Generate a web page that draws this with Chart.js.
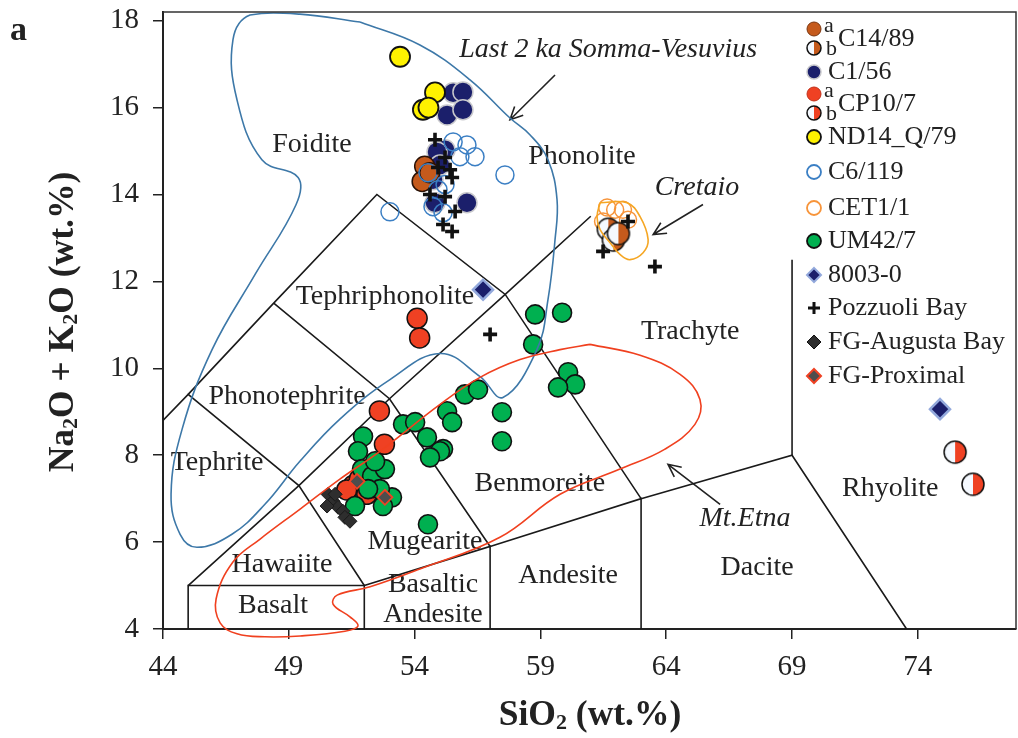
<!DOCTYPE html>
<html>
<head>
<meta charset="utf-8">
<script src="https://cdn.jsdelivr.net/npm/chart.js@4.4.1/dist/chart.umd.min.js"></script>
<style>
  body { margin: 0; background: #fff; overflow: hidden; }
  canvas { display: block; }
</style>
</head>
<body>
<canvas id="tas" width="1018" height="738"></canvas>
<script>
// tick values
const xTicks = [44, 49, 54, 59, 64, 69, 74];
const yTicks = [4, 6, 8, 10, 12, 14, 16, 18];

// samples [SiO2, Na2O+K2O]
const c1489a = [[54.4, 14.65], [54.3, 14.3], [54.6, 14.5]];
const c1489b = [[61.7, 13.2], [61.9, 12.95], [62.1, 13.1]];
const c156 = [[55.53, 16.34], [55.92, 16.36], [55.29, 15.83], [55.92, 15.95], [55.21, 15.03], [54.89, 14.98],
  [54.73, 14.34], [54.81, 13.81], [56.08, 13.81], [55.01, 14.68]];
const cp107a = [[54.1, 11.15], [54.2, 10.7], [52.6, 9.02], [52.8, 8.25], [51.55, 7.3], [52.1, 7.1], [51.8, 7.45],
  [52.3, 7.25], [51.3, 7.2]];
const cp107b = [[75.48, 8.07], [76.19, 7.33]];
const nd14 = [[53.42, 17.17], [54.81, 16.35], [54.33, 15.95], [54.55, 16.0]];
const c6119 = [[55.53, 15.21], [56.08, 15.14], [56.4, 14.87], [55.8, 14.87], [57.59, 14.45], [53.02, 13.6],
  [54.53, 14.5], [54.73, 13.72], [55.13, 13.58], [55.21, 14.23], [54.93, 14.11]];
const cet11 = [[61.65, 13.7], [61.97, 13.65], [62.28, 13.65], [61.49, 13.38], [62.48, 13.42]];
const um427 = [[58.79, 11.24], [59.86, 11.28], [58.71, 10.55], [60.1, 9.91], [60.38, 9.63], [59.7, 9.56],
  [56.0, 9.4], [56.52, 9.51], [55.29, 9.01], [55.49, 8.76], [57.47, 8.99], [57.47, 8.32], [55.13, 8.14],
  [53.54, 8.71], [54.02, 8.76], [54.49, 8.41], [55.01, 8.09], [54.61, 7.95], [51.95, 8.43], [51.75, 8.09],
  [51.91, 7.68], [52.31, 7.52], [52.82, 7.68], [52.43, 7.86], [51.63, 6.83], [53.1, 7.03], [52.74, 6.83],
  [54.53, 6.41], [52.62, 7.22], [52.15, 7.22]];
const s8003 = [[56.72, 11.81], [74.88, 9.06]];
const pozzuoli = [[54.81, 15.26], [55.21, 14.85], [54.93, 14.62], [55.41, 14.57], [55.49, 14.39], [54.61, 14.0],
  [55.21, 13.95], [55.61, 13.61], [55.13, 13.31], [55.49, 13.15], [57.0, 10.78], [61.49, 12.69], [62.48, 13.38],
  [63.55, 12.34]];
const augusta = [[50.56, 7.1], [50.76, 6.94], [50.96, 6.8], [51.15, 6.71], [50.52, 6.83], [51.23, 6.57],
  [51.43, 6.48], [50.84, 7.1]];
const proximal = [[51.71, 7.4], [52.82, 7.03]];

// TAS field boundaries (Le Bas et al.)
const tasLines = [
  [[45, 4], [45, 5], [52, 5], [52, 4]],
  [[52, 5], [57, 5.9], [57, 4]],
  [[57, 5.9], [63, 7], [63, 4]],
  [[63, 7], [69, 8], [73.55, 4]],
  [[69, 8], [69, 12.5]],
  [[45, 5], [49.4, 7.3], [53, 9.3], [57.6, 11.7], [61, 13.5]],
  [[52, 5], [49.4, 7.3], [45, 9.4], [44, 8.8]],
  [[45, 9.4], [48.4, 11.5], [52.5, 14], [57.6, 11.7], [63, 7]],
  [[48.4, 11.5], [53, 9.3], [57, 5.9]]
];

// envelopes
const vesuvius = [[51.83, 17.97], [49.44, 18.15], [47.46, 18.13], [46.78, 17.56], [46.94, 16.18], [47.93, 14.8],
  [49.37, 14.39], [49.29, 13.77], [47.66, 12.16], [45.95, 10.43], [44.76, 8.6], [44.32, 7.1], [44.68, 6.18],
  [45.35, 5.88], [46.74, 6.18], [48.05, 6.87], [49.44, 7.86], [51.03, 8.83], [53.02, 9.74], [55.01, 10.34],
  [56.6, 9.81], [57.51, 9.33], [58.86, 10.43], [59.3, 11.58], [59.58, 12.96], [59.66, 13.88], [59.3, 14.8],
  [58.59, 15.37], [57.79, 15.76], [56.2, 16.64], [54.21, 17.44], [51.83, 17.97]];
const etna = [[60.97, 10.55], [62.96, 10.3], [64.55, 9.86], [65.34, 9.28], [65.14, 8.71], [63.95, 8.14],
  [62.16, 7.68], [59.78, 7.1], [57.39, 6.11], [54.21, 5.38], [52.23, 4.97], [50.92, 4.78], [50.76, 4.57],
  [51.43, 4.28], [51.75, 4.07], [51.23, 3.95], [49.45, 3.84], [48.05, 3.82], [46.94, 3.89], [46.27, 4.14],
  [46.11, 4.69], [46.78, 5.54], [47.86, 6.07], [49.45, 6.76], [51.03, 7.45], [52.62, 8.09], [55.01, 9.17],
  [56.6, 9.79], [58.19, 10.2], [59.78, 10.43], [60.97, 10.55]];
const cretaio = [[61.37, 13.81], [62.44, 13.81], [62.96, 13.49], [63.28, 12.96], [63.08, 12.66], [62.56, 12.5],
  [62.16, 12.62], [61.77, 12.89], [61.37, 13.19], [61.25, 13.49], [61.37, 13.81]];

// field names and where they sit
const fieldNames = ['Foidite', 'Phonolite', 'Tephriphonolite', 'Trachyte', 'Phonotephrite', 'Tephrite',
  'Benmoreite', 'Mugearite', 'Hawaiite', 'Basalt', 'Basaltic', 'Andesite', 'Andesite', 'Dacite', 'Rhyolite'];
const fieldAt = [[49.92, 15.14], [60.65, 14.87], [52.82, 11.65], [64.95, 10.85], [48.93, 9.35], [46.15, 7.84],
  [58.98, 7.35], [54.41, 6.0], [48.73, 5.49], [48.37, 4.53], [54.73, 5.03], [54.73, 4.34], [60.1, 5.22],
  [67.61, 5.42], [72.9, 7.22]];

const noteNames = ['Last 2 ka Somma-Vesuvius', 'Cretaio', 'Mt.Etna'];
const noteAt = [[61.69, 17.33], [65.22, 14.16], [67.13, 6.53]];
const arrowFrom = [[59.58, 16.75], [65.46, 13.77], [66.14, 6.87]];
const arrowTo = [[57.79, 15.72], [63.48, 13.08], [64.07, 7.79]];

const legendNames = ['C14/89', 'C1/56', 'CP10/7', 'ND14_Q/79', 'C6/119', 'CET1/1', 'UM42/7', '8003-0',
  'Pozzuoli Bay', 'FG-Augusta Bay', 'FG-Proximal'];

const SERIF = "'Liberation Serif', 'Times New Roman', serif";
const BROWN = '#c55a1c', NAVY = '#1b1f6b', RED = '#ef4123', YELLOW = '#fff200',
  SKY = '#3b7fc4', ORANGE = '#f7943a', GREEN = '#00b050';

function drawHalf(g, x, y, r, color) {
  g.beginPath(); g.arc(x, y, r, 0, 2 * Math.PI); g.fillStyle = '#f5f9ff'; g.fill();
  g.beginPath(); g.moveTo(x, y - r); g.arc(x, y, r, -Math.PI / 2, Math.PI / 2); g.closePath();
  g.fillStyle = color; g.fill();
  g.beginPath(); g.arc(x, y, r, 0, 2 * Math.PI); g.lineWidth = 1.5; g.strokeStyle = '#111'; g.stroke();
}
function halfImg(r, color) {
  const c = document.createElement('canvas');
  const s = Math.ceil(2 * r + 4);
  c.width = s; c.height = s;
  drawHalf(c.getContext('2d'), s / 2, s / 2, r, color);
  return c;
}

const pts = a => a.map(p => ({ x: p[0], y: p[1] }));
const dot = (label, data, bg, bc, r, bw) => ({
  label, data: pts(data), pointStyle: 'circle', pointRadius: r, pointBackgroundColor: bg,
  pointBorderColor: bc, pointBorderWidth: bw
});
const line = (data, color, tension, clip) => ({
  label: '', data: pts(data), showLine: true, borderColor: color, borderWidth: 1.6, pointRadius: 0,
  fill: false, tension, clip
});

const datasets = [
  ...tasLines.map(l => line(l, '#1a1a1a', 0)),
  dot('C1/56', c156, NAVY, '#c8c8cc', 10, 1.5),
  dot('C14/89 a', c1489a, BROWN, '#2a1206', 10, 1.5),
  dot('ND14_Q/79', nd14, YELLOW, '#111', 10, 1.8),
  dot('CP10/7 a', cp107a, RED, '#111', 10, 1.5),
  dot('UM42/7', um427, GREEN, '#111', 9.5, 1.6),
  dot('C6/119', c6119, 'rgba(255,255,255,0)', SKY, 9, 1.5),
  dot('CET1/1', cet11, 'rgba(255,255,255,0)', ORANGE, 8.5, 1.5),
  { label: 'C14/89 b', data: pts(c1489b), pointStyle: halfImg(11, BROWN) },
  { label: 'CP10/7 b', data: pts(cp107b), pointStyle: halfImg(11, RED) },
  { label: 'FG-Augusta Bay', data: pts(augusta), pointStyle: 'rectRot', pointRadius: 7,
    pointBackgroundColor: '#2e2e2e', pointBorderColor: '#1a1a1a', pointBorderWidth: 1 },
  { label: 'FG-Proximal', data: pts(proximal), pointStyle: 'rectRot', pointRadius: 7.5,
    pointBackgroundColor: '#4d4d4d', pointBorderColor: RED, pointBorderWidth: 1.8 },
  { label: '8003-0', data: pts(s8003), pointStyle: 'rectRot', pointRadius: 10,
    pointBackgroundColor: NAVY, pointBorderColor: '#93a9dc', pointBorderWidth: 2.5 },
  { label: 'Pozzuoli Bay', data: pts(pozzuoli), pointStyle: 'cross', pointRadius: 7,
    pointBorderColor: '#111', pointBorderWidth: 3.6 },
  line(vesuvius, '#3d78a8', 0.4),
  line(etna, '#f0401f', 0.4, 14),
  line(cretaio, '#f5a623', 0.4)
];
datasets.forEach((d, i) => { d.order = datasets.length - i; });

function marker(ctx, kind, x, y, r, fill, stroke, lw) {
  ctx.save();
  if (kind === 'half') { drawHalf(ctx, x, y, r, fill); ctx.restore(); return; }
  ctx.beginPath();
  if (kind === 'circle') ctx.arc(x, y, r, 0, 2 * Math.PI);
  if (kind === 'diamond') { ctx.moveTo(x, y - r); ctx.lineTo(x + r, y); ctx.lineTo(x, y + r); ctx.lineTo(x - r, y); ctx.closePath(); }
  if (kind === 'cross') { ctx.moveTo(x - r, y); ctx.lineTo(x + r, y); ctx.moveTo(x, y - r); ctx.lineTo(x, y + r); }
  if (fill && kind !== 'cross') { ctx.fillStyle = fill; ctx.fill(); }
  ctx.lineWidth = lw; ctx.strokeStyle = stroke; ctx.stroke();
  ctx.restore();
}

function subText(ctx, runs, size) {
  let w = 0;
  runs.forEach(([t, sub]) => {
    ctx.font = 'bold ' + (sub ? size * 0.62 : size) + 'px ' + SERIF;
    ctx.fillText(t, w, sub ? size * 0.22 : 0);
    w += ctx.measureText(t).width;
  });
  return w;
}
function runsWidth(ctx, runs, size) {
  let w = 0;
  runs.forEach(([t, sub]) => {
    ctx.font = 'bold ' + (sub ? size * 0.62 : size) + 'px ' + SERIF;
    w += ctx.measureText(t).width;
  });
  return w;
}

const decor = {
  id: 'decor',
  beforeDatasetsDraw(chart) {
    const { ctx, scales: { x, y } } = chart;
    ctx.save();
    ctx.fillStyle = '#222';
    ctx.textAlign = 'center';
    ctx.textBaseline = 'middle';
    ctx.font = '28px ' + SERIF;
    fieldNames.forEach((t, i) => ctx.fillText(t, x.getPixelForValue(fieldAt[i][0]), y.getPixelForValue(fieldAt[i][1])));
    ctx.font = 'italic 28px ' + SERIF;
    noteNames.forEach((t, i) => ctx.fillText(t, x.getPixelForValue(noteAt[i][0]), y.getPixelForValue(noteAt[i][1])));
    ctx.strokeStyle = '#222';
    ctx.lineWidth = 1.6;
    arrowFrom.forEach((f, i) => {
      const x1 = x.getPixelForValue(f[0]), y1 = y.getPixelForValue(f[1]);
      const x2 = x.getPixelForValue(arrowTo[i][0]), y2 = y.getPixelForValue(arrowTo[i][1]);
      const a = Math.atan2(y2 - y1, x2 - x1);
      ctx.beginPath();
      ctx.moveTo(x1, y1); ctx.lineTo(x2, y2);
      ctx.moveTo(x2 - 14 * Math.cos(a - 0.45), y2 - 14 * Math.sin(a - 0.45));
      ctx.lineTo(x2, y2);
      ctx.lineTo(x2 - 14 * Math.cos(a + 0.45), y2 - 14 * Math.sin(a + 0.45));
      ctx.stroke();
    });
    ctx.restore();
  },
  afterDraw(chart) {
    const { ctx, chartArea: a } = chart;
    ctx.save();
    // frame top / right
    ctx.strokeStyle = '#333';
    ctx.lineWidth = 1.5;
    ctx.beginPath();
    ctx.moveTo(a.left, a.top); ctx.lineTo(a.right, a.top); ctx.lineTo(a.right, a.bottom);
    ctx.stroke();

    // legend
    const mx = 814, tx = 828, r = 7;
    const rowY = [39, 72, 104, 137, 172, 208, 241, 275, 308, 342, 376];
    const rows = [
      null,
      ['circle', NAVY, '#c8c8cc', 1.5],
      null,
      ['circle', YELLOW, '#111', 1.8],
      ['circle', null, SKY, 1.8],
      ['circle', null, ORANGE, 1.8],
      ['circle', GREEN, '#111', 1.8],
      ['diamond', NAVY, '#93a9dc', 2],
      ['cross', null, '#111', 3],
      ['diamond', '#2e2e2e', '#111', 1],
      ['diamond', '#4d4d4d', RED, 2]
    ];
    ctx.fillStyle = '#222';
    ctx.textBaseline = 'middle';
    ctx.textAlign = 'left';
    rows.forEach((m, i) => {
      ctx.font = '26px ' + SERIF;
      if (m) {
        marker(ctx, m[0], mx, rowY[i], m[0] === 'cross' ? 6 : r, m[1], m[2], m[3]);
        ctx.fillText(legendNames[i], tx, rowY[i]);
      } else {
        const col = i === 0 ? BROWN : RED;
        marker(ctx, 'circle', mx, rowY[i] - 10, r, col, col === BROWN ? '#7a3610' : '#c0301a', 1);
        marker(ctx, 'half', mx, rowY[i] + 9, r, col);
        ctx.font = '22px ' + SERIF;
        ctx.fillText('a', tx - 4, rowY[i] - 13);
        ctx.fillText('b', tx - 2, rowY[i] + 10);
        ctx.font = '26px ' + SERIF;
        ctx.fillText(legendNames[i], tx + 10, rowY[i]);
      }
    });

    // axis titles
    ctx.fillStyle = '#222';
    ctx.textBaseline = 'middle';
    const size = 35.5;
    const xr = [['SiO', false], ['2', true], [' (wt.%)', false]];
    const wx = runsWidth(ctx, xr, size);
    ctx.save();
    ctx.translate(590 - wx / 2, 716);
    subText(ctx, xr, size);
    ctx.restore();
    const yr = [['Na', false], ['2', true], ['O + K', false], ['2', true], ['O (wt.%)', false]];
    const wy = runsWidth(ctx, yr, size);
    ctx.save();
    ctx.translate(64, 322 + wy / 2);
    ctx.rotate(-Math.PI / 2);
    subText(ctx, yr, size);
    ctx.restore();

    ctx.font = 'bold 34px ' + SERIF;
    ctx.textBaseline = 'alphabetic';
    ctx.fillText('a', 10, 40);
    ctx.restore();
  }
};

const noPad = s => { s.paddingLeft = 0; s.paddingRight = 0; s.paddingTop = 0; s.paddingBottom = 0; };

new Chart(document.getElementById('tas'), {
  type: 'scatter',
  data: { datasets },
  options: {
    responsive: false,
    animation: false,
    layout: { autoPadding: false, padding: { top: 12, right: 2, left: 0, bottom: 0 } },
    plugins: { legend: { display: false }, tooltip: { enabled: false } },
    scales: {
      x: {
        type: 'linear', min: 44, max: 77.9,
        afterBuildTicks: s => { s.ticks = xTicks.map(v => ({ value: v })); },
        afterFit: s => { s.height = 109; noPad(s); },
        ticks: { font: { family: SERIF, size: 29 }, color: '#222', padding: 11, maxRotation: 0 },
        grid: { drawOnChartArea: false, drawTicks: true, tickLength: 10, color: '#222', lineWidth: 1.5 },
        border: { color: '#222', width: 2 }
      },
      y: {
        type: 'linear', min: 4, max: 18.2,
        afterBuildTicks: s => { s.ticks = yTicks.map(v => ({ value: v })); },
        afterFit: s => { s.width = 163; noPad(s); },
        ticks: { font: { family: SERIF, size: 29 }, color: '#222', padding: 14 },
        grid: { drawOnChartArea: false, drawTicks: true, tickLength: 10, color: '#222', lineWidth: 1.5 },
        border: { color: '#222', width: 2 }
      }
    }
  },
  plugins: [decor]
});
</script>
</body>
</html>
